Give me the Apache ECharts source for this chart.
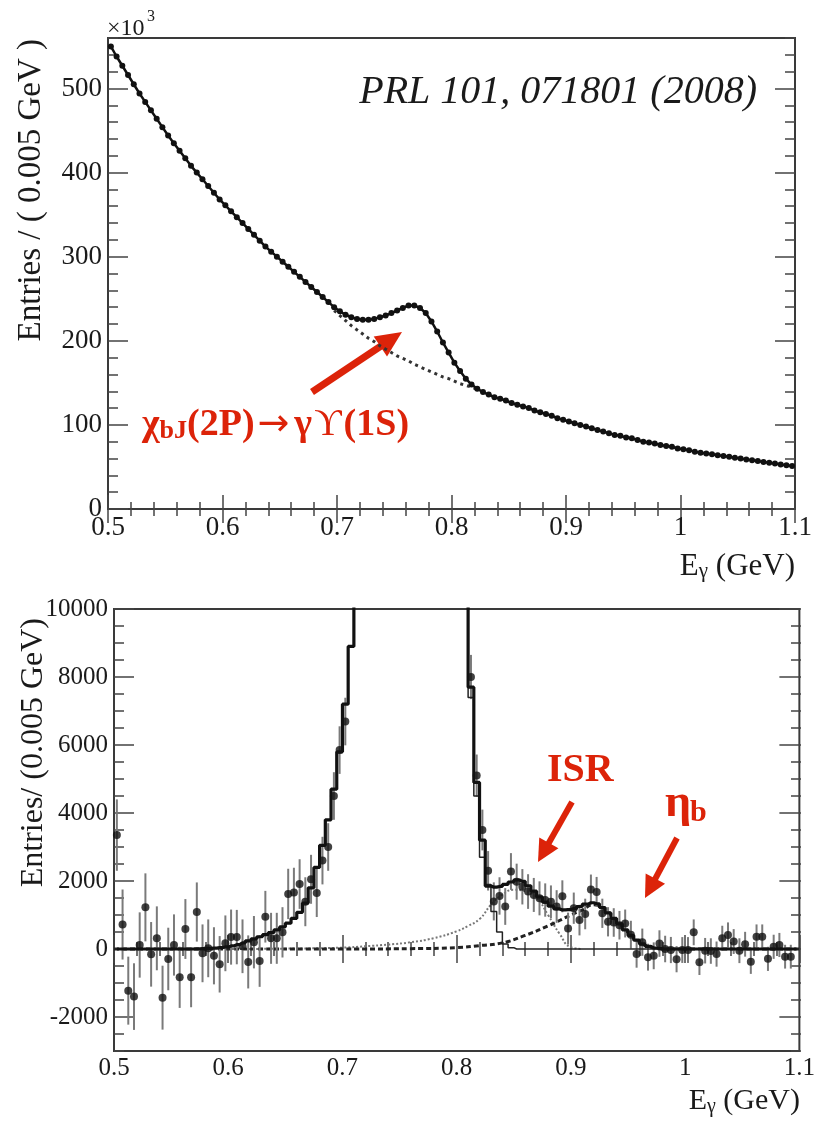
<!DOCTYPE html>
<html><head><meta charset="utf-8">
<script src="https://cdn.jsdelivr.net/npm/echarts@6/dist/echarts.min.js"></script>
<style>html,body{margin:0;padding:0;background:#fff}#c{width:818px;height:1123px}</style>
</head><body><div id="c"></div>
<script>
// ---------------- DATA ----------------
// photon-energy bins: 0.005 GeV wide, 0.5 .. 1.1 GeV (120 bins, centres)
const binFirstCentre = 0.5025, binWidth = 0.005, nBins = 120;
const binCentres = [];
for (let i = 0; i < nBins; i++) binCentres.push(+(binFirstCentre + binWidth * i).toFixed(4));

// Top panel: entries per bin (x10^3), data + fit
const topEntries = [
 550,538,527,516,505,494,484,474,464,454,
 444,435,426,417,408,400,392,384,376,368,
 361,354,347,340,333,326,319,312,306,300,
 294,288,282,276,270,264,258,252,246,240,
 235,231,228,226,225,225,226,228,230,233,
 236,239,242,242,239,233,223,211,198,186,
 174,164,155,148,143,139,136,133,131,129,
 126,124,122,120,117,115,113,111,108,106,
 104,102,100,98,96,94,92,90,88,87,
 85,84,82,80,79,78,76,75,74,72,
 71,70,68,67,66,65,64,63,62,61,
 60,59,58,57,56,55,54,53,52,51
];
// Top panel: background component under the chi_bJ(2P) peak (dotted)
const topBkgE = [0.6975,0.7025,0.7075,0.7125,0.7175,0.7225,0.7275,0.7325,0.7375,0.7425,0.7475,0.7525,0.7575,
                 0.7625,0.7675,0.7725,0.7775,0.7825,0.7875,0.7925,0.7975,0.8025,0.8075,0.8125,0.8175,0.8225];
const topBkgV = [236,230,224,218,213,208,203,199,194,190,186,182,179,
                 176,172,169,166,163,160,157,155,152,149,147,145,142];

// Bottom panel: background-subtracted entries (null = off scale)
const botEntries = [
 3350,720,-1225,-1400,118,1225,-157,314,-1431,-294,
 118,-833,588,-833,1088,-127,20,-200,-450,167,
 350,350,80,-380,200,-353,950,314,314,490,
 1620,1660,1910,1390,2050,1650,2600,3000,4500,5850,
 6690,null,null,null,null,null,null,null,null,null,
 null,null,null,null,null,null,null,null,null,null,
 null,null,8000,5100,3500,2300,1400,1560,1250,2280,
 1980,1830,1690,1590,1490,1440,1390,1250,1550,600,
 1200,850,1030,1750,1680,1050,800,780,700,750,
 420,-150,200,-240,-200,160,0,-30,-300,-30,
 -30,490,-390,-50,-60,-150,314,412,220,-50,
 140,-372,363,363,-290,65,118,-226,-226,null
];
const botErrors = [
 1050,1030,1000,980,960,1000,950,940,940,920,
 900,900,880,880,870,850,850,840,830,820,
 810,800,790,780,770,760,760,750,750,740,
 740,730,730,720,720,710,700,700,700,700,
 700,null,null,null,null,null,null,null,null,null,
 null,null,null,null,null,null,null,null,null,null,
 null,null,650,620,600,580,560,550,540,540,
 530,520,510,500,500,490,480,480,470,470,
 460,450,450,440,440,430,430,420,420,410,
 410,400,400,395,395,390,390,385,385,380,
 380,380,375,375,375,370,370,370,365,365,
 365,360,360,360,355,355,355,350,350,null
];
// Bottom panel: total fit (thick histogram line)
const botTotal = [
 0,0,0,0,0,0,0,0,0,0,
 0,0,0,0,5,10,18,28,42,60,
 90,130,180,240,300,360,420,480,560,650,
 760,900,1080,1350,1800,2400,3050,3800,4700,5800,
 7200,8900,12000,15000,19000,24000,30000,36000,42000,48000,
 54000,59000,64000,66000,64000,58000,48000,36000,25000,17000,
 13000,11000,7700,4900,3200,1850,1820,1840,1900,1970,
 2030,1990,1860,1700,1530,1380,1260,1180,1150,1160,
 1190,1250,1320,1360,1330,1220,1060,900,740,560,
 400,260,150,80,30,10,0,0,0,0,
 0,0,0,0,0,0,0,0,0,0,
 0,0,0,0,0,0,0,0,0,0
];
// Bottom panel: chi_bJ(2P) signal template (thin histogram line)
const botSignal = [
 null,null,null,null,null,null,null,null,null,null,
 null,null,null,null,null,null,null,null,null,null,
 null,null,null,null,null,null,null,null,null,null,
 null,null,null,null,null,null,null,null,null,null,
 null,null,null,null,null,null,null,null,null,null,
 null,null,null,null,64000,58000,48000,36000,25000,17000,
 13000,11000,7400,4500,2700,1900,1100,500,150,40,
 0,0,0,0,0,0,0,0,0,0,
 0,0,0,0,0,0,0,0,0,0,
 0,0,0,0,0,0,0,0,0,0,
 0,0,0,0,0,0,0,0,0,0,
 0,0,0,0,0,0,0,0,0,0
];
// Bottom panel: ISR component (dotted)
const isrE = [0.60,0.65,0.70,0.72,0.74,0.76,0.78,0.80,0.81,0.82,0.83,0.84,0.85,0.86,0.87,0.88,0.89,0.90,0.91];
const isrV = [0,10,40,80,130,200,320,520,680,880,1300,1600,1740,1700,1500,1000,450,50,0];
// Bottom panel: eta_b component (dashed)
const etabE = [0.50,0.60,0.70,0.76,0.80,0.82,0.84,0.86,0.88,0.90,0.91,0.92,0.93,0.94,0.95,0.96,0.97,0.98,1.10];
const etabV = [0,0,0,10,40,100,180,400,680,1000,1150,1300,1150,820,480,200,50,0,0];

// tick values
const xTickLabels = [0.5,0.6,0.7,0.8,0.9,1.0,1.1];
const topYTicks = [0,100,200,300,400,500];
const botYTicks = [-2000,0,2000,4000,6000,8000,10000];

// ---------------- CHART ----------------
const FONT = '"Liberation Serif","Times New Roman",serif';
const INK = '#1a1a1a', TICK = '#444', RED = '#dc2309';
const G = [
  {left:108, top:38, width:687, height:471},
  {left:114, top:609, width:687, height:442}
];
const tickStyle = {color: TICK, width: 1.5};

function xAxesFor(gi, fs) {
  const base = {type:'value', gridIndex:gi, min:0.5, max:1.1, interval:0.1,
    axisLine:{show:false}, splitLine:{show:false},
    axisTick:{inside:true, length:14, lineStyle:tickStyle},
    minorTick:{show:true, splitNumber:5, length:7, lineStyle:tickStyle}};
  return [
    Object.assign({}, base, {position:'bottom',
      axisLabel:{margin:5, color:INK, fontFamily:FONT, fontSize:fs,
        formatter: v => String(+(+v).toFixed(2))}}),
    Object.assign({}, base, {position:'top', axisLabel:{show:false}})
  ];
}
function majorY(gi, min, max, vals, pos, fs) {
  return {type:'value', gridIndex:gi, position:pos, min, max,
    axisLine:{show:false}, splitLine:{show:false},
    axisTick:{inside:true, length:20, customValues:vals, lineStyle:tickStyle},
    axisLabel:{show: pos === 'left', customValues:vals, margin:6, color:INK,
      fontFamily:FONT, fontSize:fs, formatter: v => String(v)}};
}
function minorY(gi, min, max, interval, pos) {
  return {type:'value', gridIndex:gi, position:pos, min, max, interval,
    axisLine:{show:false}, splitLine:{show:false}, axisLabel:{show:false},
    axisTick:{inside:true, length:10, lineStyle:tickStyle}};
}

const xAxis = [...xAxesFor(0, 27), ...xAxesFor(1, 25),
  {type:'value', gridIndex:2, show:false, min:0, max:1},
  {type:'value', gridIndex:3, show:false, min:0, max:1}];
const yAxis = [
  majorY(0, 0, 560, topYTicks, 'left', 27), majorY(0, 0, 560, topYTicks, 'right', 27),
  majorY(1, -3000, 10000, botYTicks, 'left', 25), majorY(1, -3000, 10000, botYTicks, 'right', 25),
  minorY(2, 0, 560, 20, 'left'), minorY(2, 0, 560, 20, 'right'),
  minorY(3, -3000, 10000, 500, 'left'), minorY(3, -3000, 10000, 500, 'right')
];
const grid = [
  Object.assign({show:true, borderColor:'#3a3a3a', borderWidth:2}, G[0]),
  Object.assign({show:true, borderColor:'#3a3a3a', borderWidth:2}, G[1]),
  Object.assign({}, G[0]), Object.assign({}, G[1])
];

const zip = (a, b) => a.map((x, i) => [x, b[i]]);
const pts = [], bars = [];
binCentres.forEach((x, i) => {
  if (botEntries[i] !== null) { pts.push([x, botEntries[i]]); bars.push([x, botEntries[i], botErrors[i]]); }
});

const series = [
  {type:'line', xAxisIndex:0, yAxisIndex:0, data: zip(topBkgE, topBkgV), symbol:'none',
   lineStyle:{color:'#333', width:3, type:[3,4]}, z:2, silent:true},
  {type:'line', xAxisIndex:0, yAxisIndex:0, data: zip(binCentres, topEntries),
   symbol:'circle', symbolSize:6, itemStyle:{color:'#111'},
   lineStyle:{color:'#111', width:2.5}, z:3, silent:true},

  {type:'line', xAxisIndex:2, yAxisIndex:2, data: zip(isrE, isrV), symbol:'none', smooth:true,
   lineStyle:{color:'#777', width:2, type:[2,2]}, z:2, silent:true},
  {type:'line', xAxisIndex:2, yAxisIndex:2, data: zip(etabE, etabV), symbol:'none', smooth:true,
   lineStyle:{color:'#222', width:3, type:[5,3]}, z:2, silent:true},
  {type:'custom', xAxisIndex:2, yAxisIndex:2, data: bars, clip:true, z:3, silent:true,
   renderItem: (params, api) => {
     const x = api.value(0), y = api.value(1), e = api.value(2);
     const a = api.coord([x, y + e]), b = api.coord([x, y - e]);
     return {type:'line', shape:{x1:a[0], y1:a[1], x2:b[0], y2:b[1]},
             style:{stroke:'#7a7a7a', lineWidth:2}};
   }},
  {type:'line', xAxisIndex:2, yAxisIndex:2, data: zip(binCentres, botSignal), step:'middle',
   symbol:'none', lineStyle:{color:'#222', width:1.5}, z:4, silent:true},
  {type:'line', xAxisIndex:2, yAxisIndex:2, data: zip(binCentres, botTotal), step:'middle',
   symbol:'none', lineStyle:{color:'#111', width:3.2}, z:5, silent:true},
  {type:'scatter', xAxisIndex:2, yAxisIndex:2, data: pts, symbol:'circle', symbolSize:8,
   itemStyle:{color:'#111'}, z:6, silent:true}
];

function arrow(x1, y1, x2, y2, w, hl, hw) {
  const dx = x2 - x1, dy = y2 - y1, L = Math.hypot(dx, dy), ux = dx / L, uy = dy / L, px = -uy, py = ux;
  const bx = x2 - ux * hl, by = y2 - uy * hl;
  return [
    {type:'line', shape:{x1, y1, x2: bx + ux * 3, y2: by + uy * 3}, style:{stroke:RED, lineWidth:w}},
    {type:'polygon', shape:{points:[[x2, y2], [bx + px * hw, by + py * hw], [bx - px * hw, by - py * hw]]}, style:{fill:RED}}
  ];
}
function txt(x, y, text, font, align, extra) {
  return Object.assign({type:'text', x, y, style:{text, font, fill:INK, align, textAlign:align,
    verticalAlign:'middle', textVerticalAlign:'middle'}}, extra || {});
}

const graphic = [
  txt(107, 29, '×10', '24px ' + FONT, 'left'),
  txt(147, 17, '3', '16px ' + FONT, 'left'),
  txt(757, 92, 'PRL 101, 071801 (2008)', 'italic 40px ' + FONT, 'right'),
  txt(31, 39, 'Entries / ( 0.005 GeV )', '33px ' + FONT, 'right', {rotation: Math.PI / 2}),
  txt(34, 618, 'Entries/ (0.005 GeV)', '32px ' + FONT, 'right', {rotation: Math.PI / 2}),
  {type:'text', x:795, y:566, style:{text:'{n|E}{g|γ}{n| (GeV)}', align:'right', textAlign:'right',
    verticalAlign:'middle', textVerticalAlign:'middle',
    rich:{n:{font:'31px ' + FONT, fill:INK, verticalAlign:'bottom', lineHeight:32},
          g:{font:'21px ' + FONT, fill:INK, verticalAlign:'bottom', lineHeight:21}}}},
  {type:'text', x:800, y:1101, style:{text:'{n|E}{g|γ}{n| (GeV)}', align:'right', textAlign:'right',
    verticalAlign:'middle', textVerticalAlign:'middle',
    rich:{n:{font:'30px ' + FONT, fill:INK, verticalAlign:'bottom', lineHeight:31},
          g:{font:'20px ' + FONT, fill:INK, verticalAlign:'bottom', lineHeight:20}}}},
  {type:'text', x:142, y:425, style:{text:'{c|χ}{s|bJ}{c|(2P)}{a|→}{c|γ}{u|ϒ}{c|(1S)}', align:'left', textAlign:'left',
    verticalAlign:'middle', textVerticalAlign:'middle',
    rich:{c:{font:'bold 38px ' + FONT, fill:RED, verticalAlign:'bottom', lineHeight:38},
          s:{font:'bold 26px ' + FONT, fill:RED, verticalAlign:'bottom', lineHeight:27},
          a:{font:'38px "DejaVu Sans"', fill:RED, verticalAlign:'bottom', lineHeight:39, padding:[0,5,0,3]},
          u:{font:'38px ' + FONT, fill:RED, verticalAlign:'bottom', lineHeight:38, padding:[0,2,0,2]}}}},
  {type:'text', x:547, y:771, style:{text:'ISR', font:'bold 40px ' + FONT, fill:RED, align:'left', textAlign:'left',
    verticalAlign:'middle', textVerticalAlign:'middle'}},
  {type:'text', x:665, y:804, style:{text:'η', font:'bold 46px ' + FONT, fill:RED, align:'left', textAlign:'left',
    verticalAlign:'middle', textVerticalAlign:'middle'}},
  {type:'text', x:690, y:813, style:{text:'b', font:'bold 30px ' + FONT, fill:RED, align:'left', textAlign:'left',
    verticalAlign:'middle', textVerticalAlign:'middle'}},
  ...arrow(312, 392, 402, 332, 7, 26, 12),
  ...arrow(572, 802, 538, 862, 6, 22, 11),
  ...arrow(677, 838, 645, 898, 6, 22, 11)
];

const chart = echarts.init(document.getElementById('c'), null, {renderer:'canvas'});
chart.setOption({animation:false, backgroundColor:'#fff', grid, xAxis, yAxis, series, graphic});
</script>
</body></html>
